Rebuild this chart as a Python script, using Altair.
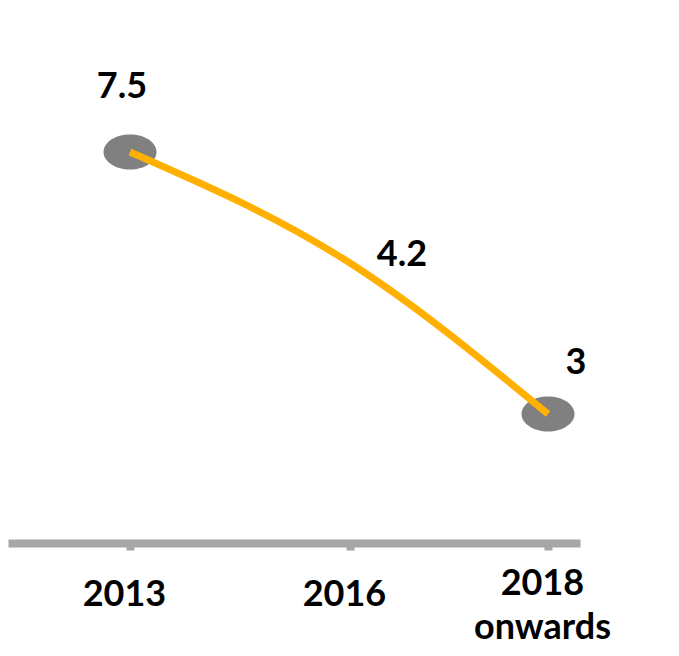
import altair as alt
import pandas as pd

# ---- data ----
categories = ["2013", "2016", "2018 onwards"]
years = [2013, 2016, 2018]
values = [7.5, 4.2, 3.0]
value_labels = ["7.5", "4.2", "3"]
marker_years = [2013, 2018]

df = pd.DataFrame({
    "year": years,
    "category": categories,
    "value": values,
    "label": value_labels,
})

FONT = "Lato"
ORANGE = "#FFB000"
GREY_MARK = "#808080"
AXIS_GREY = "#A6A6A6"

# multi-line tick labels built from the category names
parts = [f"datum.value == {y} ? split('{c}', ' ')" for y, c in zip(years, categories)]
label_expr = " : ".join(parts) + " : ''"

x_scale = alt.Scale(
    domain=[2011.336, years[0], years[1], years[2], 2018.323],
    range=[0, 122, 342, 540, 572],
    nice=False, zero=False,
)
y_scale = alt.Scale(
    domain=[values[2], values[1], values[0]],
    range=[406, 255, 144],
    nice=False, zero=False,
)

x_enc = alt.X(
    "year:Q",
    scale=x_scale,
    axis=alt.Axis(
        values=years,
        labelExpr=label_expr,
        title=None,
        grid=False,
        domainColor=AXIS_GREY,
        domainWidth=8,
        tickColor=AXIS_GREY,
        tickWidth=8,
        tickSize=7,
        labelFont=FONT,
        labelFontSize=36,
        labelFontWeight="bold",
        labelColor="#000000",
        labelPadding={"condition": {"test": f"datum.value == {years[2]}", "value": 16}, "value": 27},
        labelLineHeight=44,
        labelOffset=-6,
        labelFlush=False,
        labelOverlap=False,
    ),
)
y_enc = alt.Y("value:Q", scale=y_scale, axis=None)

base = alt.Chart(df)

markers = base.transform_filter(
    alt.FieldOneOfPredicate(field="year", oneOf=marker_years)
).mark_point(
    shape="M -1 0 A 1 0.66 0 1 1 1 0 A 1 0.66 0 1 1 -1 0 Z",
    size=2809,
    filled=True,
    color=GREY_MARK,
    opacity=1,
).encode(x=x_enc, y=y_enc)

line = base.mark_line(
    color=ORANGE,
    strokeWidth=7,
    interpolate="monotone",
    strokeCap="butt",
).encode(x=x_enc, y=y_enc)

offsets = {"7.5": (-8, -65), "4.2": (52, -8), "3": (28, -51)}
texts = []
for lab in value_labels:
    dx, dy = offsets[lab]
    texts.append(
        base.transform_filter(alt.datum.label == lab).mark_text(
            font=FONT,
            fontSize=36,
            fontWeight="bold",
            color="#000000",
            align="center",
            baseline="middle",
            dx=dx,
            dy=dy,
        ).encode(x=x_enc, y=y_enc, text="label:N")
    )

chart = alt.layer(markers, line, *texts).properties(
    width=572,
    height=535,
    autosize=alt.AutoSizeParams(type="none"),
    padding={"left": 0, "top": 0, "right": 80, "bottom": 105},
    background="white",
).configure_view(stroke=None)

chart.save("out.html", embed_options={"renderer": "svg", "actions": False})
